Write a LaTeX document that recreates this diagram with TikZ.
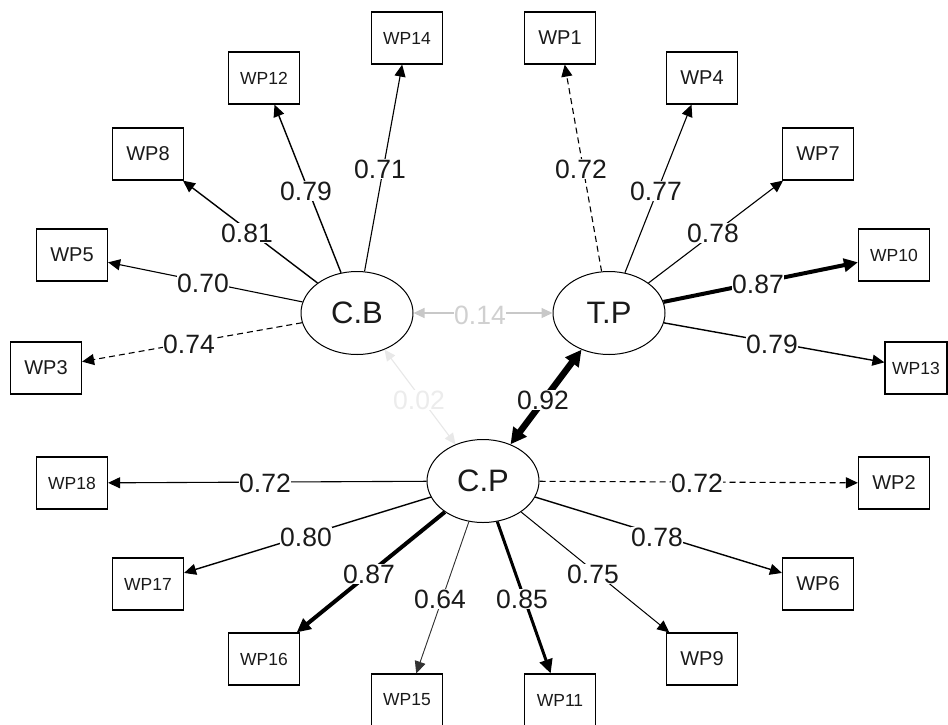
\documentclass[tikz,border=0pt]{standalone}
\usepackage{fontspec}
\setmainfont{Liberation Sans}
\usetikzlibrary{shapes.geometric,arrows.meta}
\definecolor{covgray}{HTML}{C8C8C8}
\definecolor{covlight}{HTML}{E8E8E8}
\definecolor{lblgray}{HTML}{D0D0D0}
\definecolor{lbllight}{HTML}{ECECEC}
\definecolor{txt}{HTML}{1A1A1A}
\begin{document}
\begin{tikzpicture}[x=1pt,y=-1pt,
 lat/.style={draw,ellipse,line width=1pt,minimum width=112pt,minimum height=83pt,inner sep=0pt,font=\fontsize{31}{31}\selectfont,text=txt},
 man/.style={draw,rectangle,line width=1.2pt,minimum width=71pt,minimum height=52pt,inner sep=0pt,font=\fontsize{17.5}{17.5}\selectfont,text=txt},
 manb/.style={man,font=\fontsize{20}{20}\selectfont},
 ld/.style={-{Triangle[length=12pt,width=11pt]},line width=1.1pt},
 ldm/.style={ld,line width=1.4pt},
 ldt/.style={-{Triangle[length=14pt,width=13pt]},line width=#1},
 dsh/.style={dash pattern=on 6pt off 4pt},
 lbl/.style={fill=white,inner sep=0.5pt,font=\fontsize{26.5}{26.5}\selectfont,text=txt},
]
\useasboundingbox (0,0) rectangle (948,724);
\fill[white] (0,0) rectangle (948,724);

% latent variables
\node[lat] (CB) at (357,313) {C.B};
\node[lat] (TP) at (609,313) {T.P};
\node[lat] (CP) at (483,481) {C.P};

% C.B indicators
\node[man] (WP14) at (407,38) {WP14};
\node[man] (WP12) at (264,78) {WP12};
\node[manb] (WP8) at (148,154) {WP8};
\node[manb] (WP5) at (72,255) {WP5};
\node[manb] (WP3) at (46,368) {WP3};

% T.P indicators
\node[manb] (WP1) at (560,38) {WP1};
\node[manb] (WP4) at (702,78) {WP4};
\node[manb] (WP7) at (818,154) {WP7};
\node[man] (WP10) at (894,255) {WP10};
\node[man,minimum width=62pt] (WP13) at (916,368) {WP13};

% C.P indicators
\node[man] (WP18) at (72,483) {WP18};
\node[man] (WP17) at (148,584) {WP17};
\node[man] (WP16) at (264,659) {WP16};
\node[man] (WP15) at (407,700) {WP15};
\node[man] (WP11) at (560,700) {WP11};
\node[manb] (WP9) at (702,659) {WP9};
\node[manb] (WP6) at (818,584) {WP6};
\node[manb] (WP2) at (894,483) {WP2};

% loadings C.B
\draw[ld] (CB) -- (WP14);
\draw[ldm] (CB) -- (WP12);
\draw[ldm] (CB) -- (WP8);
\draw[ld] (CB) -- (WP5);
\draw[ld,dsh] (CB) -- (WP3);
% loadings T.P
\draw[ld,dsh] (TP) -- (WP1);
\draw[ld] (TP) -- (WP4);
\draw[ld] (TP) -- (WP7);
\draw[ldt=4pt] (TP) -- (WP10);
\draw[ldm] (TP) -- (WP13);
% loadings C.P
\draw[ld] (CP) -- (WP18);
\draw[ldm] (CP) -- (WP17);
\draw[ldt=4pt] (CP) -- (WP16);
\draw[ld,line width=0.9pt,draw=black!80,fill=black!80] (CP) -- (WP15);
\draw[ldt=3pt] (CP) -- (WP11);
\draw[ld,line width=1pt] (CP) -- (WP9);
\draw[ldm] (CP) -- (WP6);
\draw[ld,dsh] (CP) -- (WP2);

% covariances
\draw[{Triangle[length=11pt,width=10pt]}-{Triangle[length=11pt,width=10pt]},line width=1.1pt,covgray] (CB) -- (TP);
\draw[{Triangle[length=11pt,width=10pt]}-{Triangle[length=11pt,width=10pt]},line width=1.1pt,covlight] (CB) -- (CP);
\draw[{Triangle[length=16pt,width=16pt]}-{Triangle[length=16pt,width=16pt]},line width=6.5pt] (CP) -- (TP);

% labels
\node[lbl] (l14) at (380,169) {0.71};
\node[lbl] (l12) at (306,191) {0.79};
\node[lbl] (l8) at (247,233) {0.81};
\node[lbl] (l5) at (203,283) {0.70};
\node[lbl] (l3) at (189,344) {0.74};

\node[lbl] (l1) at (581,169) {0.72};
\node[lbl] (l4) at (656,191) {0.77};
\node[lbl] (l7) at (713,233) {0.78};
\node[lbl] (l10) at (758,284) {0.87};
\node[lbl] (l13) at (772,344) {0.79};

\node[lbl] (l18) at (265,483) {0.72};
\node[lbl] (l17) at (306,537) {0.80};
\node[lbl] (l16) at (369,574) {0.87};
\node[lbl] (l15) at (440,599) {0.64};
\node[lbl] (l11) at (522,599) {0.85};
\node[lbl] (l9) at (593,574) {0.75};
\node[lbl] (l6) at (657,537) {0.78};
\node[lbl] (l2) at (697,483) {0.72};

\node[lbl,text=lblgray] (c14) at (480,315) {0.14};
\node[lbl,text=lbllight] (c02) at (419,400) {0.02};
\node[lbl] (c92) at (543,400) {0.92};
\end{tikzpicture}
\end{document}
